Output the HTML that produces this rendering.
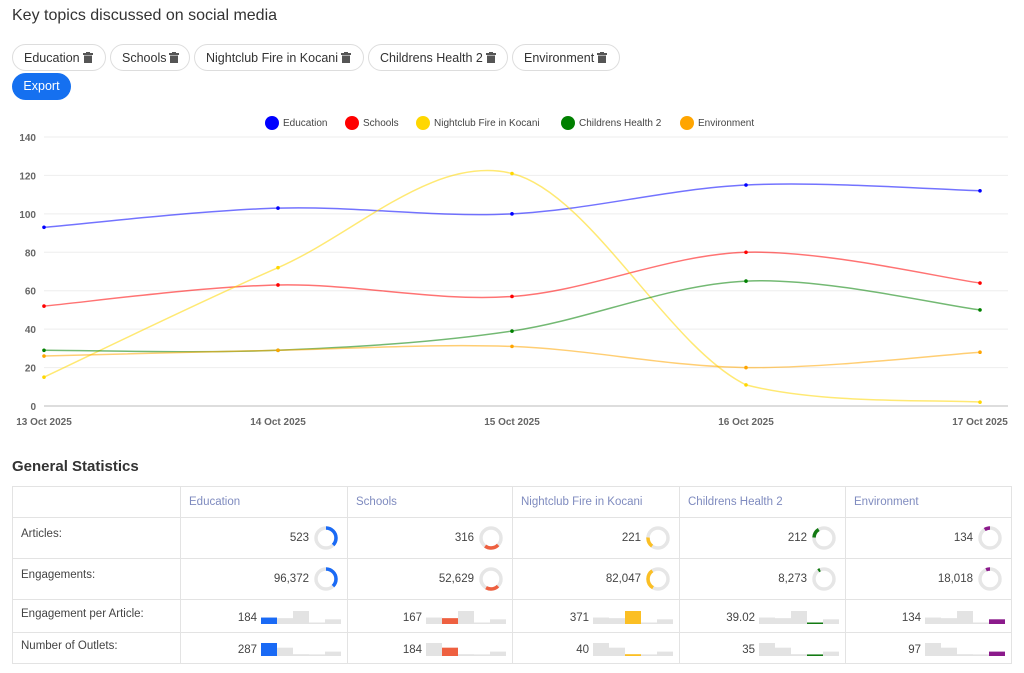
<!DOCTYPE html>
<html><head><meta charset="utf-8"><style>
body{margin:0;width:1024px;height:673px;background:#fff;font-family:"Liberation Sans",sans-serif;color:#333;position:relative;overflow:hidden}
.title{position:absolute;left:12px;top:7px;font-size:16px;color:#333}
.chip{position:absolute;top:44px;height:27px;border:1px solid #ddd;border-radius:14px;font-size:12.5px;line-height:26px;padding:0 0 0 11px;box-sizing:border-box;color:#333;white-space:nowrap}
.chip svg{vertical-align:-1px;margin-left:3px}
.btn{position:absolute;left:12px;top:73px;width:59px;height:27px;background:#1570f0;color:#fff;border-radius:14px;font-size:12.5px;line-height:27px;text-align:center}
h3{position:absolute;left:12px;top:458px;margin:0;font-size:15px;color:#333}
table{position:absolute;left:12px;top:486px;border-collapse:collapse;font-size:11.5px;color:#444}
td{border:1px solid #e3e3e3;padding:0 8px;box-sizing:border-box;vertical-align:middle}
</style></head><body>
<div class="title">Key topics discussed on social media</div>
<div class="chip" style="left:12px;width:94px">Education<svg width="10" height="11"><rect x="0" y="1" width="10" height="2" fill="#555"/><rect x="3" y="0" width="4" height="1.5" fill="#555"/><rect x="1" y="3.5" width="8" height="7.5" fill="#555"/></svg></div>
<div class="chip" style="left:110px;width:80px">Schools<svg width="10" height="11"><rect x="0" y="1" width="10" height="2" fill="#555"/><rect x="3" y="0" width="4" height="1.5" fill="#555"/><rect x="1" y="3.5" width="8" height="7.5" fill="#555"/></svg></div>
<div class="chip" style="left:194px;width:170px">Nightclub Fire in Kocani<svg width="10" height="11"><rect x="0" y="1" width="10" height="2" fill="#555"/><rect x="3" y="0" width="4" height="1.5" fill="#555"/><rect x="1" y="3.5" width="8" height="7.5" fill="#555"/></svg></div>
<div class="chip" style="left:368px;width:140px">Childrens Health 2<svg width="10" height="11"><rect x="0" y="1" width="10" height="2" fill="#555"/><rect x="3" y="0" width="4" height="1.5" fill="#555"/><rect x="1" y="3.5" width="8" height="7.5" fill="#555"/></svg></div>
<div class="chip" style="left:512px;width:108px">Environment<svg width="10" height="11"><rect x="0" y="1" width="10" height="2" fill="#555"/><rect x="3" y="0" width="4" height="1.5" fill="#555"/><rect x="1" y="3.5" width="8" height="7.5" fill="#555"/></svg></div>
<div class="btn">Export</div>
<svg id="chart" width="1024" height="440" style="position:absolute;left:0;top:0"></svg>
<h3>General Statistics</h3>
<table id="tbl"></table>
<script>
const categories=["13 Oct 2025","14 Oct 2025","15 Oct 2025","16 Oct 2025","17 Oct 2025"];
const seriesNames=["Education","Schools","Nightclub Fire in Kocani","Childrens Health 2","Environment"];
const education=[93,103,100,115,112];
const schools=[52,63,57,80,64];
const nightclub=[15,72,121,11,2];
const childrens=[29,29,39,65,50];
const environment=[26,29,31,20,28];
const yTicks=[0,20,40,60,80,100,120,140];
const series=[education,schools,nightclub,childrens,environment];
const lineColors=["#0000ff","#ff0000","#ffd700","#008000","#ffa500"];
const NS="http://www.w3.org/2000/svg";
const svg=document.getElementById('chart');
const x=i=>44+i*234, y=v=>406-v*(269/140);
function mk(t,a){const e=document.createElementNS(NS,t);for(const k in a)e.setAttribute(k,a[k]);svg.appendChild(e);return e;}
yTicks.forEach(t=>{const l=mk('line',{x1:44,x2:1008,y1:y(t),y2:y(t),stroke:t?'#eee':'#bbb'});


const tx=mk('text',{x:36,y:y(t)+4,'text-anchor':'end','font-size':10,'font-weight':'bold',fill:'#666'});tx.textContent=t;

});
categories.forEach((c,i)=>{const tx=mk('text',{x:Math.min(x(i),985),y:425,'text-anchor':'middle','font-size':10,'font-weight':'bold',fill:'#666'});tx.textContent=c;

});
const lim=v=>Math.min(v,y(0)-1);
series.forEach((s,k)=>{const p=s.map((v,i)=>[x(i),y(v)]);let d='M'+p[0];
for(let i=0;i<p.length-1;i++){const p0=p[i-1]||p[i],p1=p[i],p2=p[i+1],p3=p[i+2]||p2;
const c1=[p1[0]+(p2[0]-p0[0])/6,lim(p1[1]+(p2[1]-p0[1])/6)],c2=[p2[0]-(p3[0]-p1[0])/6,lim(p2[1]-(p3[1]-p1[1])/6)];d+='C'+c1+' '+c2+' '+p2;}
const pa=mk('path',{d,fill:'none',stroke:lineColors[k],'stroke-opacity':0.55,'stroke-width':1.5});


p.forEach(q=>{const c=mk('circle',{cx:q[0],cy:q[1],r:1.8,fill:lineColors[k]});

});});
const lx=[272,352,423,568,687];
seriesNames.forEach((n,k)=>{const c=mk('circle',{cx:lx[k],cy:123,r:7,fill:lineColors[k]});


const t=mk('text',{x:lx[k]+11,y:126,'font-size':10,fill:'#444'});t.textContent=n;

});
const articles=[523,316,221,212,134];
const engagements=[96372,52629,82047,8273,18018];
const epa=["184","167","371","39.02","134"];
const epaVals=[184,167,371,39.02,134];
const outlets=[287,184,40,35,97];
const tc=["#1a6af5","#ee6040","#fbbf24","#137a13","#8b1a8b"];
const widths=[168,167,165,167,166,166];
function donut(vals,i){const tot=vals.reduce((a,b)=>a+b,0);let s=0;for(let j=0;j<i;j++)s+=vals[j];
const C=2*Math.PI*10;return `<svg width="26" height="26" style="vertical-align:middle;margin-left:4px"><circle cx="13" cy="13" r="10" fill="none" stroke="#e6e6e6" stroke-width="3.5"/><circle cx="13" cy="13" r="10" fill="none" stroke="${tc[i]}" stroke-width="3.5" stroke-dasharray="${vals[i]/tot*C} ${C}" stroke-dashoffset="${-s/tot*C}" transform="rotate(-90 13 13)"/></svg>`;}
function bars(vals,i){const m=Math.max(...vals);let r='';vals.forEach((v,j)=>{const h=Math.max(1.5,v/m*13);r+=`<rect x="${j*16}" y="${15-h}" width="16" height="${h}" fill="${j==i?tc[i]:'#e3e3e3'}"/>`;});
return `<svg width="80" height="15" style="vertical-align:bottom;margin-left:4px">${r}</svg>`;}
let h='<tr style="height:31px"><td style="width:168px"></td>'+seriesNames.map((n,i)=>`<td style="width:${widths[i+1]}px;color:#7f8bbf">${n}</td>`).join('')+'</tr>';
h+='<tr style="height:41px"><td style="padding-bottom:8px">Articles:</td>'+articles.map((v,i)=>`<td style="text-align:right">${v.toLocaleString('en-US')}${donut(articles,i)}</td>`).join('')+'</tr>';
h+='<tr style="height:41px"><td style="padding-bottom:8px">Engagements:</td>'+engagements.map((v,i)=>`<td style="text-align:right">${v.toLocaleString('en-US')}${donut(engagements,i)}</td>`).join('')+'</tr>';
h+='<tr style="height:33px"><td style="padding-bottom:4px">Engagement per Article:</td>'+epa.map((v,i)=>`<td style="text-align:right;padding-right:6px">${v}${bars(epaVals,i)}</td>`).join('')+'</tr>';
h+='<tr style="height:31px"><td style="padding-bottom:4px">Number of Outlets:</td>'+outlets.map((v,i)=>`<td style="text-align:right;padding-right:6px">${v}${bars(outlets,i)}</td>`).join('')+'</tr>';
document.getElementById('tbl').innerHTML=h;
</script>
</body></html>
